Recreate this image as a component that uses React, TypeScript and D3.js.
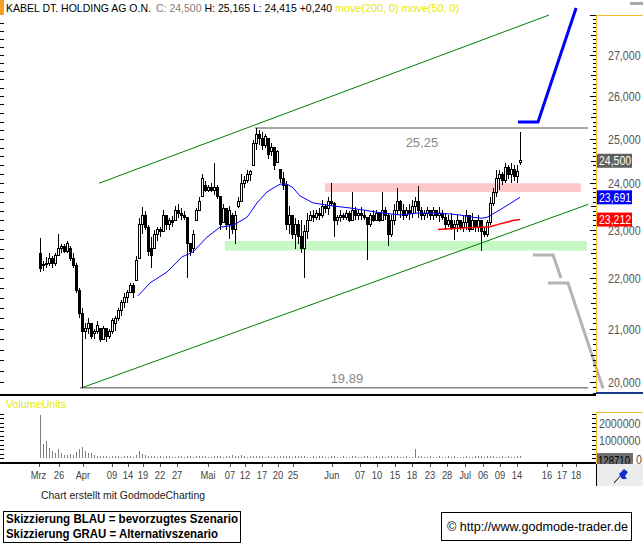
import React from "react";
import * as d3 from "d3";

const W = 643;
const H = 544;
const FONT = "Liberation Sans, Arial, Helvetica, sans-serif";

// OHLC bars: [open, high, low, close], one per slot
const ohlc: number[][] = [
  [22.5, 22.82, 22.13, 22.2], [22.25, 22.35, 22.15, 22.28], [22.28, 22.42, 22.2, 22.3], [22.3, 22.5, 22.25, 22.4],
  [22.4, 22.45, 22.2, 22.3], [22.3, 22.5, 22.25, 22.45], [22.45, 22.9, 22.45, 22.6], [22.6, 22.7, 22.5, 22.65],
  [22.65, 22.7, 22.5, 22.55], [22.55, 22.75, 22.5, 22.7], [22.6, 22.65, 22.35, 22.4], [22.4, 22.5, 22.2, 22.25],
  [22.25, 22.3, 21.7, 21.75], [21.75, 21.8, 21.2, 21.3], [21.3, 21.4, 19.89, 20.95], [20.95, 21.1, 20.8, 21.0],
  [21.0, 21.2, 20.9, 21.1], [21.1, 21.1, 20.8, 20.85], [20.9, 21.0, 20.8, 20.95], [20.95, 21.15, 20.9, 21.05],
  [21.0, 21.0, 20.75, 20.8], [20.8, 21.05, 20.8, 21.0], [21.0, 21.0, 20.75, 20.85], [20.85, 21.0, 20.8, 20.95],
  [20.95, 21.2, 20.9, 21.15], [21.1, 21.25, 20.95, 21.2], [21.2, 21.4, 21.15, 21.35], [21.35, 21.55, 21.25, 21.5],
  [21.5, 21.7, 21.4, 21.6], [21.6, 21.75, 21.5, 21.7], [21.7, 21.9, 21.7, 21.85], [21.85, 21.9, 21.6, 21.7],
  [21.95, 22.45, 21.95, 22.35], [22.4, 23.25, 22.4, 23.1], [23.1, 23.48, 22.9, 23.3], [23.3, 23.4, 23.0, 23.05],
  [23.05, 23.1, 22.45, 22.55], [22.6, 22.85, 22.2, 22.45], [22.6, 23.0, 22.6, 22.9], [22.9, 23.05, 22.75, 23.0],
  [23.0, 23.05, 22.85, 22.95], [22.95, 23.42, 22.95, 23.3], [23.3, 23.3, 22.99, 23.1], [23.1, 23.25, 23.0, 23.2],
  [23.2, 23.28, 23.05, 23.15], [23.2, 23.5, 23.2, 23.4], [23.4, 23.55, 23.25, 23.35], [23.35, 23.45, 23.2, 23.3],
  [23.3, 23.4, 23.2, 23.25], [23.25, 23.25, 22.0, 22.7], [22.7, 22.7, 22.45, 22.55], [22.6, 23.0, 22.5, 22.9],
  [23.2, 23.45, 23.2, 23.4], [23.4, 23.7, 23.4, 23.6], [23.7, 24.2, 23.7, 24.1], [23.95, 24.05, 23.8, 23.85],
  [23.85, 23.95, 23.8, 23.9], [23.9, 24.0, 23.8, 23.85], [23.85, 24.45, 23.75, 23.9], [23.9, 23.95, 23.65, 23.7],
  [23.7, 23.7, 22.99, 23.1], [23.15, 23.55, 23.15, 23.45], [23.45, 23.45, 23.0, 23.1], [23.1, 23.5, 22.8, 23.4],
  [23.3, 23.35, 22.9, 23.0], [23.0, 23.4, 22.7, 23.3], [23.5, 23.7, 23.45, 23.6], [23.6, 24.2, 23.6, 24.0],
  [24.0, 24.15, 23.9, 24.05], [24.05, 24.3, 24.0, 24.2], [24.2, 24.3, 24.05, 24.25], [24.4, 24.97, 24.4, 24.9],
  [24.9, 25.25, 24.75, 25.1], [25.1, 25.2, 24.85, 25.0], [25.0, 25.15, 24.75, 24.85], [24.85, 25.1, 24.8, 25.05],
  [25.0, 25.0, 24.55, 24.65], [24.7, 24.9, 24.6, 24.8], [24.8, 24.8, 24.3, 24.4], [24.45, 24.75, 24.45, 24.7],
  [24.3, 24.3, 24.0, 24.1], [24.1, 24.25, 23.85, 23.95], [23.95, 24.05, 22.99, 23.1], [23.1, 23.5, 22.9, 23.3],
  [23.3, 23.3, 22.8, 22.9], [22.9, 23.25, 22.6, 23.1], [23.1, 23.2, 22.7, 22.85], [22.85, 23.2, 22.5, 22.6],
  [22.6, 23.1, 22.0, 22.95], [22.95, 23.35, 22.8, 23.2], [23.2, 23.4, 23.2, 23.3], [23.3, 23.42, 23.15, 23.25],
  [23.25, 23.42, 23.2, 23.35], [23.35, 23.45, 23.2, 23.3], [23.3, 23.63, 23.25, 23.5], [23.5, 23.55, 23.35, 23.45],
  [23.45, 23.7, 23.3, 23.6], [23.6, 24.0, 23.5, 23.55], [23.55, 23.6, 22.85, 23.2], [23.2, 23.3, 23.1, 23.25],
  [23.25, 23.42, 23.15, 23.3], [23.3, 23.35, 23.2, 23.25], [23.25, 23.42, 23.2, 23.35], [23.35, 23.4, 23.15, 23.2],
  [23.2, 23.8, 23.2, 23.4], [23.4, 23.48, 23.2, 23.3], [23.3, 23.42, 23.2, 23.35], [23.35, 23.48, 23.2, 23.3],
  [23.3, 23.42, 23.2, 23.25], [23.25, 23.25, 22.37, 23.1], [23.1, 23.35, 23.05, 23.3], [23.3, 23.42, 23.15, 23.2],
  [23.2, 23.42, 23.2, 23.35], [23.35, 23.38, 23.15, 23.2], [23.2, 23.8, 23.2, 23.4], [23.4, 23.48, 23.2, 23.3],
  [23.3, 23.35, 22.65, 22.9], [22.9, 23.3, 22.85, 23.2], [23.2, 23.55, 23.1, 23.4], [23.4, 23.9, 23.3, 23.6],
  [23.6, 23.63, 23.25, 23.4], [23.4, 23.55, 23.2, 23.3], [23.3, 23.48, 23.25, 23.4], [23.4, 23.55, 23.2, 23.35],
  [23.35, 23.63, 23.25, 23.5], [23.5, 23.7, 23.35, 23.6], [23.6, 23.93, 23.25, 23.4], [23.4, 23.48, 23.2, 23.3],
  [23.3, 23.42, 23.2, 23.35], [23.35, 23.48, 23.25, 23.4], [23.4, 23.42, 23.2, 23.3], [23.3, 23.48, 23.2, 23.4],
  [23.4, 23.42, 23.25, 23.3], [23.3, 23.48, 23.15, 23.35], [23.35, 23.42, 23.2, 23.25], [23.25, 23.35, 22.99, 23.1],
  [23.1, 23.3, 23.05, 23.2], [23.2, 23.35, 22.99, 23.05], [23.05, 23.2, 22.78, 23.1], [23.1, 23.3, 22.95, 23.2],
  [23.2, 23.2, 23.0, 23.05], [23.05, 23.3, 22.95, 23.15], [23.15, 23.42, 23.0, 23.3], [23.3, 23.3, 22.95, 23.0],
  [23.0, 23.35, 22.99, 23.2], [23.2, 23.2, 22.95, 23.05], [23.05, 23.3, 22.95, 23.2], [23.2, 23.2, 22.55, 22.95],
  [22.95, 23.05, 22.85, 22.9], [22.9, 23.2, 22.85, 23.15], [23.15, 23.7, 23.1, 23.55], [23.55, 23.9, 23.5, 23.8],
  [23.8, 24.3, 23.7, 24.1], [24.1, 24.3, 23.85, 24.2], [24.2, 24.25, 23.95, 24.05], [24.05, 24.45, 24.0, 24.35],
  [24.35, 24.4, 24.1, 24.2], [24.2, 24.45, 24.0, 24.3], [24.3, 24.4, 24.05, 24.15], [24.15, 24.4, 24.0, 24.26],
  [24.45, 25.165, 24.415, 24.5],
];

// volume in thousands of units, one per slot
const volumeK: number[] = [
  2400, 800, 950, 550, 420, 260, 520, 300, 180, 150, 200, 150, 330, 480, 620, 420, 260, 300, 190, 130,
  110, 90, 120, 80, 100, 90, 120, 80, 110, 90, 100, 80, 160, 380, 220, 150, 130, 110, 90, 80,
  100, 70, 90, 110, 80, 70, 90, 100, 80, 130, 90, 80, 120, 100, 140, 90, 80, 70, 110, 90,
  100, 80, 90, 120, 150, 110, 90, 180, 100, 80, 90, 130, 110, 90, 100, 80, 90, 70, 100, 80,
  90, 110, 140, 90, 80, 110, 90, 100, 130, 80, 70, 90, 80, 100, 90, 70, 80, 110, 90, 70,
  80, 90, 70, 80, 100, 90, 70, 80, 90, 120, 80, 70, 90, 80, 100, 70, 110, 90, 80, 100,
  70, 80, 90, 70, 80, 530, 140, 90, 70, 80, 90, 70, 80, 90, 70, 80, 90, 70, 110, 80,
  70, 80, 90, 70, 80, 90, 120, 100, 80, 90, 110, 90, 80, 70, 90, 80, 100, 70, 80, 90, 128.71,
];

// moving averages (slot, value)
const ma50Slots = [32.67, 36.67, 42.33, 47.33, 51, 55.67, 60, 64.33, 69, 72.33, 75.67, 80, 82.33, 84.33, 86.67, 91, 95.67, 103.33, 114.33, 120, 125.67, 133.33, 140, 144.33, 147.33, 149, 153.33, 160];
const ma50Values = [21.64, 21.9, 22.12, 22.43, 22.53, 22.84, 23.05, 23.09, 23.26, 23.57, 23.81, 23.98, 23.98, 23.9, 23.72, 23.57, 23.52, 23.46, 23.35, 23.31, 23.35, 23.35, 23.31, 23.26, 23.24, 23.26, 23.42, 23.691];
const ma200Slots = [132.67, 139, 146.67, 150, 153.33, 157.67, 160];
const ma200Values = [23.0, 23.03, 23.05, 23.06, 23.12, 23.19, 23.212];

// date axis
const dateLabels = ["Mrz", "26", "Apr", "09", "14", "19", "22", "27", "Mai", "07", "12", "17", "20", "25", "Jun", "07", "10", "15", "18", "23", "28", "Jul", "06", "09", "14", "16", "17", "18"];
const dateSlots = [-0.5, 6.3, 14.3, 24, 29.3, 34.3, 40, 45.7, 56, 63.3, 68.3, 74, 79.3, 84.3, 97.3, 106.7, 112.3, 118.3, 124, 130, 135.7, 141.7, 147.7, 153.3, 159, 169, 174, 178.7];

// price axis
const priceTicks = [20, 21, 22, 23, 24, 25, 26, 27];
const priceTickLabels = ["20,000", "21,000", "22,000", "23,000", "24,000", "25,000", "26,000", "27,000"];
const volumeTicks = [0, 1000000, 2000000];
const volumeTickLabels = ["0", "1000000", "2000000"];

// drawings
const upperChannel: [number, number][] = [[19.67, 24.0], [169.67, 28.01]];
const lowerChannel: [number, number][] = [[14, 19.89], [182.78, 23.54]];
const resistanceZone = { from: 95, to: 180.3, low: 23.81, high: 24.0 };
const supportZone = { from: 61.67, to: 182.3, low: 22.56, high: 22.76 };
const highLine = { from: 71.67, to: 182.67, value: 25.25, label: "25,25", labelSlot: 127.3 };
const lowLine = { from: 13.33, to: 182.67, value: 19.89, label: "19,89", labelSlot: 102.3 };
const blueScenario: [number, number][] = [[159.33, 25.39], [166, 25.39], [178.7, 28.19]];
const grayScenario1: [number, number][] = [[164.33, 22.47], [171, 22.47], [173.67, 22.0]];
const grayScenario2: [number, number][] = [[169.33, 21.9], [176, 21.9], [187.67, 19.88]];

const lastValues = [
  { value: 24.5, text: "24,500", fill: "#606060", color: "#ffffff" },
  { value: 23.691, text: "23,691", fill: "#0000ff", color: "#ffffff" },
  { value: 23.212, text: "23,212", fill: "#ff0000", color: "#ffffff" },
];

function T(props: any) {
  const { x, y, size = 11, fill = "#000", anchor = "start", weight = "normal", len, sx = 1, children } = props;
  if (sx !== 1) {
    return (
      <g transform={`translate(${x},${y}) scale(${sx},1)`}>
        <text x={0} y={0} fontSize={size} fill={fill} textAnchor={anchor} fontWeight={weight} fontFamily={FONT}>{children}</text>
      </g>
    );
  }
  return (
    <text x={x} y={y} fontSize={size} fill={fill} textAnchor={anchor} fontWeight={weight} fontFamily={FONT}
      textLength={len} lengthAdjust={len ? "spacingAndGlyphs" : undefined}>{children}</text>
  );
}

export default function App() {
  const x = d3.scaleLinear().domain([0, 180]).range([40, 580]);
  const y = d3.scaleLog().domain([20, 27]).range([381.7, 55]);
  const yv = d3.scaleLinear().domain([0, 2000000]).range([458, 422.5]);
  const line = d3.line<[number, number]>().x((d) => x(d[0])).y((d) => y(d[1]));
  const ma50 = ma50Slots.map((s, i) => [s, ma50Values[i]] as [number, number]);
  const ma200 = ma200Slots.map((s, i) => [s, ma200Values[i]] as [number, number]);

  const minorPrice = d3.range(198, 281).map((v) => v / 10).filter((v) => y(v) >= 15 && y(v) <= 393);
  const leftPrice = d3.range(99, 141).map((v) => v / 5).filter((v) => y(v) >= 17 && y(v) <= 392);
  const volMinor = d3.range(0, 11).map((v) => v * 250000);
  const axisYellow = "#f0c030";

  return (
    <svg width={W} height={H} style={{ position: "absolute", left: 0, top: 0, background: "#fff" }}>
      <rect x={0} y={0} width={W} height={H} fill="#fff" />
      {/* header */}
      <rect x={0} y={0} width={4} height={15} fill="#f5a020" />
      <T x={6} y={12} size={10.5} fill="#000">KABEL DT. HOLDING AG O.N.</T>
      <T x={156} y={12} size={10.5} fill="#808080">C: 24,500</T>
      <T x={204.5} y={12} size={10.5} fill="#000">H: 25,165 L: 24,415 +0,240</T>
      <T x={335} y={12} size={11} fill="#e8e800" len={124}>move(200, 0) move(50, 0)</T>
      <rect x={630} y={2} width={13} height={3} fill="#a8a8a8" />

      {/* zones */}
      <rect x={x(resistanceZone.from)} y={y(resistanceZone.high)} width={x(resistanceZone.to) - x(resistanceZone.from)}
        height={y(resistanceZone.low) - y(resistanceZone.high)} fill="#ffc8c8" />
      <rect x={x(supportZone.from)} y={y(supportZone.high)} width={x(supportZone.to) - x(supportZone.from)}
        height={y(supportZone.low) - y(supportZone.high)} fill="#c4f8c4" />

      {/* high / low lines */}
      <line x1={x(highLine.from)} x2={x(highLine.to)} y1={y(highLine.value)} y2={y(highLine.value)} stroke="#888" strokeWidth={1.5} />
      <line x1={x(lowLine.from)} x2={x(lowLine.to)} y1={y(lowLine.value)} y2={y(lowLine.value)} stroke="#888" strokeWidth={1.5} />
      <T x={x(highLine.labelSlot)} y={y(highLine.value) + 19} size={13} fill="#888" anchor="middle">{highLine.label}</T>
      <T x={x(lowLine.labelSlot)} y={y(lowLine.value) - 5} size={13} fill="#888" anchor="middle">{lowLine.label}</T>

      {/* channel */}
      <path d={line(upperChannel) || ""} stroke="#008000" strokeWidth={1} fill="none" />
      <path d={line(lowerChannel) || ""} stroke="#008000" strokeWidth={1} fill="none" />

      {/* candles */}
      <g shapeRendering="crispEdges">
        {ohlc.map((b, i) => {
          const [o, h, l, c] = b;
          const hi = Math.max(h, o, c);
          const lo = Math.min(l, o, c);
          const cx = Math.round(x(i));
          const top = y(Math.max(o, c));
          const bot = y(Math.min(o, c));
          return (
            <g key={i}>
              <line x1={cx + 0.5} x2={cx + 0.5} y1={y(hi)} y2={y(lo)} stroke="#000" strokeWidth={1} />
              <rect x={cx - 0.5} y={top} width={2} height={Math.max(1, bot - top)} fill={c >= o ? "#fff" : "#000"} stroke="#000" strokeWidth={1} />
            </g>
          );
        })}
      </g>

      {/* moving averages */}
      <path d={line(ma50) || ""} stroke="#0000ff" strokeWidth={1} fill="none" />
      <path d={line(ma200) || ""} stroke="#ff0000" strokeWidth={1.5} fill="none" />

      {/* scenarios */}
      <path d={line(blueScenario) || ""} stroke="#0000ff" strokeWidth={3} fill="none" />
      <path d={line(grayScenario1) || ""} stroke="#b4b4b4" strokeWidth={3} fill="none" />
      <path d={line(grayScenario2) || ""} stroke="#b4b4b4" strokeWidth={3} fill="none" />

      {/* left ticks */}
      <g shapeRendering="crispEdges">
        {leftPrice.map((v, i) => (
          <line key={i} x1={0} x2={4} y1={Math.round(y(v)) + 0.5} y2={Math.round(y(v)) + 0.5} stroke="#000" />
        ))}
      </g>

      {/* right price axis */}
      <g shapeRendering="crispEdges">
        <line x1={596.5} x2={596.5} y1={15} y2={394} stroke={axisYellow} />
        <line x1={596} x2={643} y1={15.5} y2={15.5} stroke={axisYellow} />
        {minorPrice.map((v, i) => {
          const major = Math.abs(v - Math.round(v)) < 0.001;
          const half = Math.abs(v * 2 - Math.round(v * 2)) < 0.001;
          return (
            <line key={i} x1={major ? 590 : half ? 591 : 593} x2={596} y1={Math.round(y(v)) + 0.5} y2={Math.round(y(v)) + 0.5} stroke="#000" />
          );
        })}
      </g>
      {priceTicks.map((v, i) => (
        <T key={i} x={608} y={y(v) + 5} size={13} fill="#555" sx={0.82}>{priceTickLabels[i]}</T>
      ))}
      {lastValues.map((d, i) => (
        <g key={i}>
          <rect x={597} y={y(d.value) - 7} width={35} height={14} fill={d.fill} />
          <T x={599} y={y(d.value) + 4.5} size={12.5} fill={d.color} sx={0.84}>{d.text}</T>
        </g>
      ))}

      {/* separator between panels */}
      <rect x={0} y={394} width={596} height={2} fill="#000" />
      <rect x={596} y={392} width={47} height={2} fill="#1a3a8a" />

      {/* volume panel */}
      <T x={6} y={408} size={11} fill="#e8e800" len={60}>VolumeUnits</T>
      <g shapeRendering="crispEdges">
        {volumeK.map((v, i) => (
          <line key={i} x1={Math.round(x(i)) + 0.5} x2={Math.round(x(i)) + 0.5} y1={yv(0)} y2={yv(v * 1000)} stroke="#808080" strokeWidth={1} />
        ))}
        {volMinor.map((v, i) => (
          <g key={i}>
            <line x1={0} x2={4} y1={Math.round(yv(v)) + 0.5} y2={Math.round(yv(v)) + 0.5} stroke="#000" />
            <line x1={592} x2={596} y1={Math.round(yv(v)) + 0.5} y2={Math.round(yv(v)) + 0.5} stroke="#000" />
          </g>
        ))}
        <line x1={596.5} x2={596.5} y1={412} y2={463} stroke={axisYellow} />
        <line x1={596} x2={643} y1={412.5} y2={412.5} stroke={axisYellow} />
      </g>
      {volumeTicks.map((v, i) =>
        v === 0 ? (
          <T key={i} x={636} y={yv(v) + 6} size={13} fill="#555" sx={0.82}>{volumeTickLabels[i]}</T>
        ) : (
          <T key={i} x={599} y={yv(v) + 5} size={13} fill="#555" sx={0.82}>{volumeTickLabels[i]}</T>
        )
      )}
      <rect x={597} y={453} width={36} height={14} fill="#707070" />
      <T x={598} y={464.5} size={12} fill="#000" sx={0.8}>128710</T>

      {/* date axis */}
      <rect x={0} y={462} width={596} height={2} fill="#000" />
      <g shapeRendering="crispEdges">
        {dateSlots.map((s, i) => (
          <line key={i} x1={Math.round(x(s)) + 0.5} x2={Math.round(x(s)) + 0.5} y1={464} y2={467} stroke="#555" />
        ))}
      </g>
      {dateLabels.map((lab, i) => (
        <T key={i} x={x(dateSlots[i])} y={479} size={11} fill="#444" anchor="middle" sx={0.85}>{lab}</T>
      ))}
      <rect x={596} y={464} width={47} height={22} fill="#ececec" />
      <line x1={596.5} x2={596.5} y1={464} y2={486} stroke="#000" />
      <line x1={614} y1={483} x2={624} y2={472} stroke="#000" strokeWidth={1} />
      <path d="M619,474 L624,469 L628,472 L625,476 L627,479 L622,479 Z" fill="#1030d0" />

      {/* footer */}
      <T x={41} y={499} size={11} fill="#222" len={164}>Chart erstellt mit GodmodeCharting</T>
      <rect x={3.5} y={511.5} width={237} height={31} fill="#fff" stroke="#000" strokeWidth={1} />
      <T x={6} y={523} size={12} weight="bold" len={232}>Skizzierung BLAU = bevorzugtes Szenario</T>
      <T x={6} y={538} size={12} weight="bold" len={212}>Skizzierung GRAU = Alternativszenario</T>
      <rect x={441.5} y={512.5} width={190} height={28} fill="#fff" stroke="#000" strokeWidth={1} />
      <T x={447} y={531} size={12} fill="#000" len={181}>© http://www.godmode-trader.de</T>
    </svg>
  );
}
